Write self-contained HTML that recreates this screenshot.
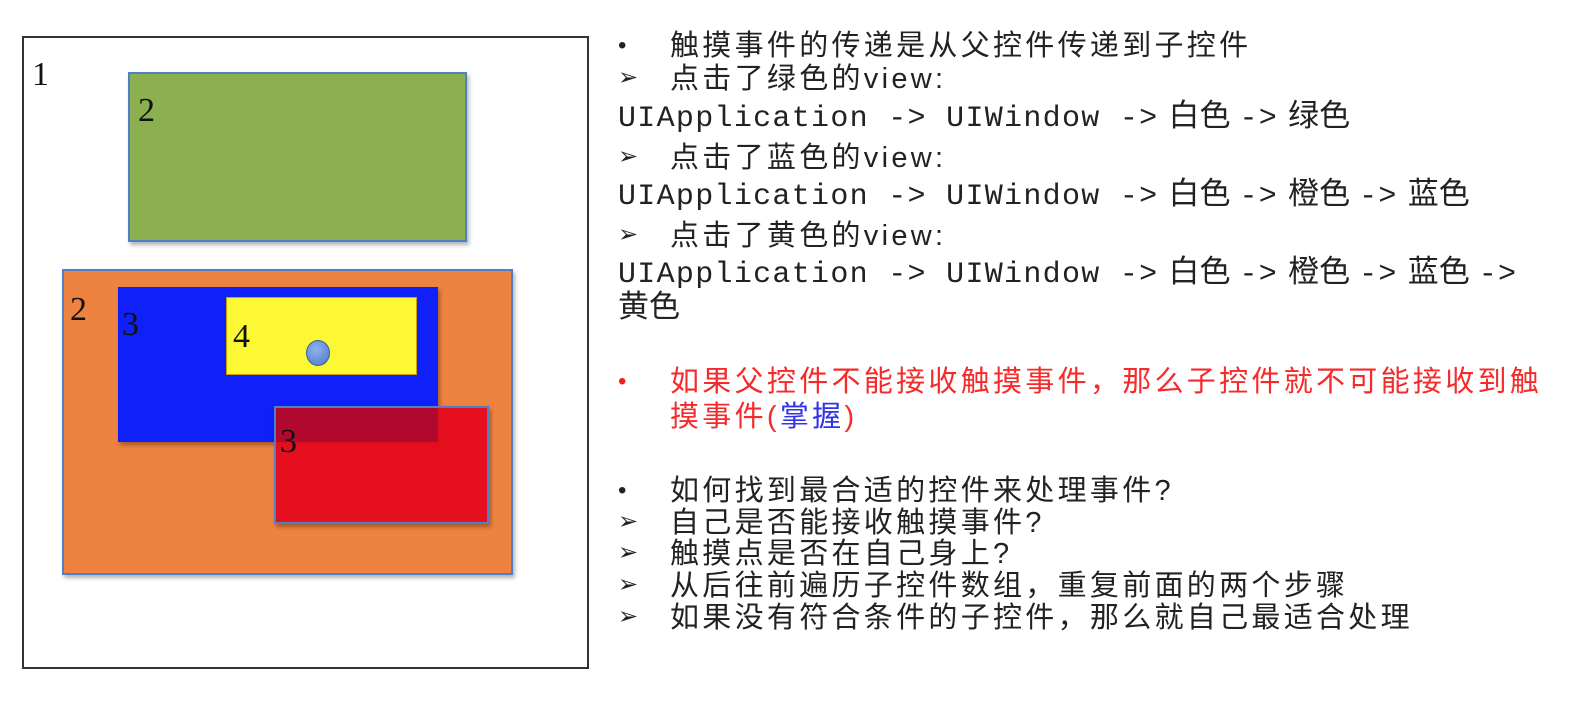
<!DOCTYPE html>
<html><head><meta charset="utf-8"><style>
body{margin:0;width:1574px;height:722px;background:#fff;position:relative;overflow:hidden;font-family:"Liberation Sans","Noto Sans CJK SC",sans-serif;}
.b{position:absolute;box-sizing:border-box;}
.n{position:absolute;font-family:"Liberation Serif",serif;font-size:34px;color:#111;line-height:1;}
.t{position:absolute;left:670px;font-size:29px;letter-spacing:3.3px;color:#222;line-height:34px;white-space:nowrap;}
.m{position:absolute;left:618px;font-family:"Liberation Mono","Noto Sans CJK SC",monospace;font-size:30px;letter-spacing:1.3px;color:#222;line-height:34px;height:34px;white-space:nowrap;}
.m span{font-family:"Noto Sans CJK SC",sans-serif;font-size:31px;line-height:20px;letter-spacing:0;margin:0 9px 0 10px;}
.k{position:absolute;left:618px;font-size:24px;color:#222;line-height:34px;}
</style></head><body>
<div class="b" style="left:22px;top:36px;width:567px;height:633px;border:2px solid #333;"></div>
<div class="n" style="left:32px;top:58px;">1</div>
<div class="b" style="left:128px;top:72px;width:339px;height:170px;background:#8caf4f;border:2px solid #4f7fc4;box-shadow:2px 3px 4px rgba(0,0,0,.3);"></div>
<div class="n" style="left:138px;top:94px;">2</div>
<div class="b" style="left:62px;top:269px;width:451px;height:306px;background:#ee8240;border:2px solid #4f7fc4;box-shadow:2px 3px 4px rgba(0,0,0,.3);"></div>
<div class="n" style="left:70px;top:293px;">2</div>
<div class="b" style="left:118px;top:287px;width:320px;height:155px;background:#0f21f8;box-shadow:2px 3px 4px rgba(0,0,0,.3);"></div>
<div class="n" style="left:122px;top:308px;">3</div>
<div class="b" style="left:226px;top:297px;width:191px;height:78px;background:#fcf934;border:1px solid #c8a000;"></div>
<div class="n" style="left:233px;top:320px;">4</div>
<div class="b" style="left:306px;top:340px;width:24px;height:26px;border-radius:50%;background:radial-gradient(circle at 40% 35%,#8fb2ee,#4a78c8);border:1px solid #3a5fa0;"></div>
<div class="b" style="left:274px;top:406px;width:215px;height:118px;background:rgba(228,8,28,.95);border:2px solid #4f7fc4;box-shadow:2px 3px 4px rgba(0,0,0,.3);"></div>
<div class="b" style="left:276px;top:408px;width:162px;height:34px;background:#b0082e;"></div>
<div class="n" style="left:280px;top:425px;">3</div>

<div class="k" style="top:29px;">•</div><div class="t" style="top:29px;">触摸事件的传递是从父控件传递到子控件</div>
<div class="k" style="top:61px;">➢</div><div class="t" style="top:62px;">点击了绿色的view:</div>
<div class="m" style="top:102px;">UIApplication -&gt; UIWindow -&gt;<span>白色</span>-&gt;<span>绿色</span></div>
<div class="k" style="top:140px;">➢</div><div class="t" style="top:141px;">点击了蓝色的view:</div>
<div class="m" style="top:180px;">UIApplication -&gt; UIWindow -&gt;<span>白色</span>-&gt;<span>橙色</span>-&gt;<span>蓝色</span></div>
<div class="k" style="top:218px;">➢</div><div class="t" style="top:219px;">点击了黄色的view:</div>
<div class="m" style="top:258px;">UIApplication -&gt; UIWindow -&gt;<span>白色</span>-&gt;<span>橙色</span>-&gt;<span>蓝色</span>-&gt;</div>
<div class="m" style="top:293px;"><span style="margin:0">黄色</span></div>
<div class="k" style="top:365px;color:#f02020;">•</div><div class="t" style="top:365px;color:#f52a2a;">如果父控件不能接收触摸事件，那么子控件就不可能接收到触</div>
<div class="t" style="top:400px;color:#f52a2a;">摸事件(<span style="color:#3333ee">掌握</span>)</div>
<div class="k" style="top:474px;">•</div><div class="t" style="top:474px;">如何找到最合适的控件来处理事件?</div>
<div class="k" style="top:505px;">➢</div><div class="t" style="top:506px;">自己是否能接收触摸事件?</div>
<div class="k" style="top:536px;">➢</div><div class="t" style="top:537px;">触摸点是否在自己身上?</div>
<div class="k" style="top:568px;">➢</div><div class="t" style="top:569px;">从后往前遍历子控件数组，重复前面的两个步骤</div>
<div class="k" style="top:600px;">➢</div><div class="t" style="top:601px;">如果没有符合条件的子控件，那么就自己最适合处理</div>
</body></html>
